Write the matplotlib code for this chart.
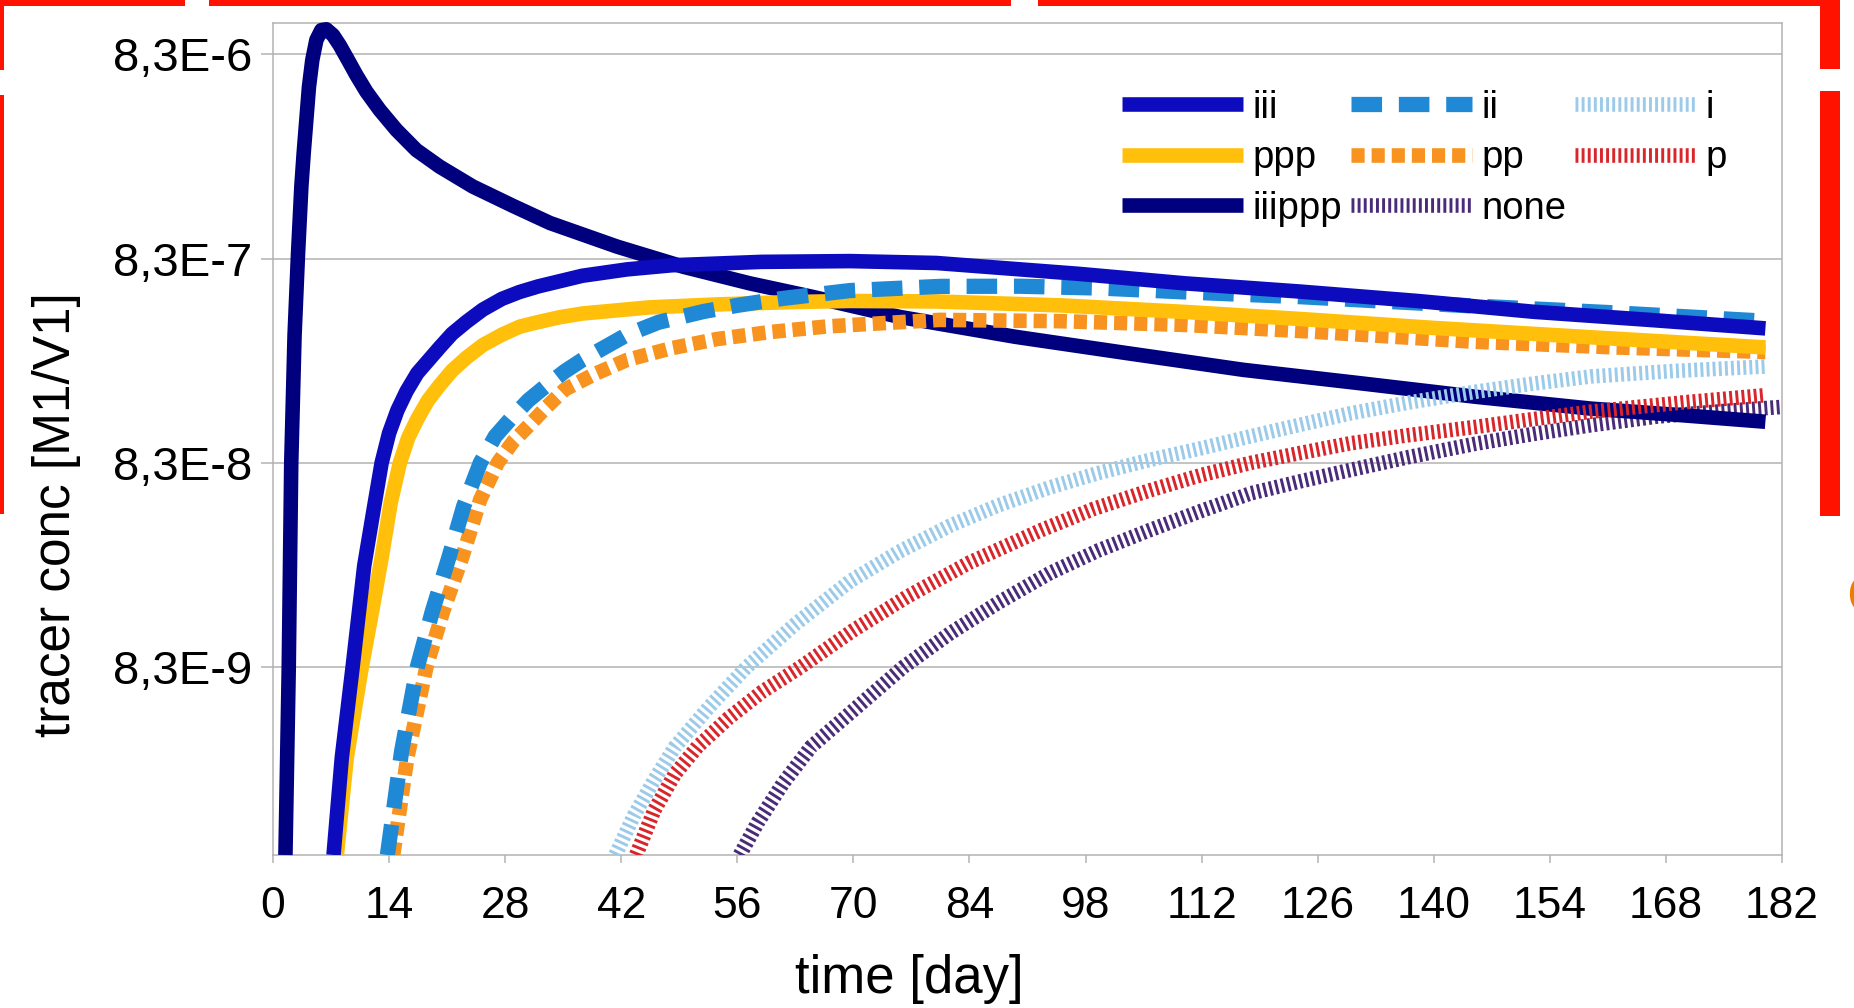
import matplotlib
matplotlib.use('Agg')
import matplotlib.pyplot as plt
from matplotlib.patches import Rectangle
from matplotlib.ticker import NullLocator

plt.rcParams['font.family'] = ['Liberation Sans', 'DejaVu Sans']

# values: time [day] and tracer conc [M1/V1]
iii_days = [7.3, 8.3, 9.6, 11.0, 12.1, 13.1, 14.0, 15.0, 16.1, 17.4, 20.1, 21.6, 23.3,
            25.3, 27.6, 29.7, 32.0, 37.3, 42.7, 48.1, 58.9, 69.6, 80, 97, 110, 124,
            138, 152, 166, 180]
iii_vals = [1.0e-9, 3.0e-9, 8.3e-9, 2.6e-8, 4.8e-8, 8.3e-8, 1.16e-7, 1.5e-7, 1.86e-7,
            2.28e-7, 3.05e-7, 3.56e-7, 4.06e-7, 4.67e-7, 5.27e-7, 5.69e-7, 6.07e-7,
            6.84e-7, 7.35e-7, 7.7e-7, 8.0e-7, 8.07e-7, 7.9e-7, 7.0e-7, 6.28e-7,
            5.72e-7, 5.15e-7, 4.56e-7, 4.16e-7, 3.78e-7]

ii_days = [13.8, 15.5, 17.4, 19.2, 21.2, 23.0, 25.0, 26.8, 28.7, 30.8, 33.0, 35.2, 37.3,
           42.7, 46.5, 51.9, 56, 61.5, 69.6, 80.5, 90, 100, 110, 124, 145, 162, 180]
ii_vals = [1.0e-9, 3.2e-9, 8.3e-9, 1.55e-8, 2.85e-8, 5.1e-8, 8.3e-8, 1.12e-7, 1.37e-7,
           1.68e-7, 1.99e-7, 2.33e-7, 2.65e-7, 3.52e-7, 4.05e-7, 4.57e-7, 4.9e-7,
           5.3e-7, 5.79e-7, 6.07e-7, 6.08e-7, 5.95e-7, 5.7e-7, 5.4e-7, 4.86e-7,
           4.5e-7, 4.1e-7]

i_days = [41.3, 43.5, 46, 48.5, 52.5, 57.1, 63, 69.6, 75.5, 81.7, 87.5, 93.7, 99.5,
          105.8, 112, 117.9, 124, 129.9, 137, 145, 152, 159, 169, 180]
i_vals = [1.0e-9, 1.55e-9, 2.34e-9, 3.39e-9, 5.25e-9, 8.3e-9, 1.35e-8, 2.19e-8, 3.05e-8,
          4.1e-8, 5.15e-8, 6.3e-8, 7.4e-8, 8.6e-8, 9.8e-8, 1.12e-7, 1.28e-7, 1.45e-7,
          1.64e-7, 1.85e-7, 2.03e-7, 2.2e-7, 2.34e-7, 2.46e-7]

ppp_days = [7.7, 8.9, 10.7, 12.0, 13.1, 14.2, 15.3, 16.3, 17.4, 18.7, 20.1, 21.6, 23.3,
            25.3, 27.6, 29.8, 32.0, 34.5, 37.3, 45.4, 53.5, 62, 69.6, 80, 95, 110, 124,
            140, 160, 180]
ppp_vals = [1.0e-9, 3.0e-9, 8.3e-9, 1.6e-8, 2.85e-8, 5.3e-8, 8.3e-8, 1.1e-7, 1.36e-7,
            1.68e-7, 1.99e-7, 2.35e-7, 2.71e-7, 3.13e-7, 3.52e-7, 3.86e-7, 4.06e-7,
            4.28e-7, 4.47e-7, 4.79e-7, 4.95e-7, 5.08e-7, 5.15e-7, 5.12e-7, 4.9e-7,
            4.55e-7, 4.2e-7, 3.8e-7, 3.4e-7, 3.05e-7]

pp_days = [14.5, 16.2, 18.5, 20.5, 22.8, 25.0, 27.1, 29.0, 30.9, 33.0, 35.2, 38.8, 42.7,
           48, 53.5, 60, 67, 80.4, 95, 110, 125, 145, 162, 180]
pp_vals = [1.0e-9, 3.0e-9, 8.3e-9, 1.55e-8, 2.85e-8, 5.5e-8, 8.3e-8, 1.06e-7, 1.27e-7,
           1.56e-7, 1.9e-7, 2.26e-7, 2.65e-7, 3.02e-7, 3.35e-7, 3.63e-7, 3.87e-7,
           4.16e-7, 4.1e-7, 3.93e-7, 3.65e-7, 3.25e-7, 3.05e-7, 2.9e-7]

p_days = [43.8, 46, 48.5, 51.2, 55, 59, 63.6, 70, 76.5, 84, 92.7, 99, 105.8, 112, 117.9,
          124, 129.9, 137, 145, 152, 159, 170, 180]
p_vals = [1.0e-9, 1.66e-9, 2.5e-9, 3.39e-9, 4.7e-9, 6.3e-9, 8.3e-9, 1.26e-8, 1.84e-8,
          2.7e-8, 3.9e-8, 4.95e-8, 6.1e-8, 7.25e-8, 8.3e-8, 9.3e-8, 1.035e-7, 1.135e-7,
          1.245e-7, 1.36e-7, 1.48e-7, 1.64e-7, 1.78e-7]

iiippp_days = [1.5, 1.9, 2.2, 2.6, 3.02, 3.22, 3.42, 3.7, 4.02, 4.34, 4.74, 5.23, 5.83,
               6.43, 7.24, 8.04, 9.05, 10.05, 11.26, 12.87, 14.88, 17.29, 20.1, 24.1,
               29, 33.4, 41.5, 49.5, 57.5, 65, 75.6, 89.5, 103, 117, 131, 145, 159,
               170, 180]
iiippp_vals = [1.0e-9, 8.3e-9, 8.3e-8, 3.5e-7, 8.8e-7, 1.28e-6, 1.87e-6, 2.72e-6, 3.96e-6,
               5.76e-6, 7.78e-6, 9.75e-6, 1.09e-5, 1.10e-5, 1.03e-5, 9.2e-6, 7.78e-6,
               6.57e-6, 5.45e-6, 4.43e-6, 3.54e-6, 2.82e-6, 2.34e-6, 1.87e-6, 1.5e-6,
               1.24e-6, 9.5e-7, 7.57e-7, 6.28e-7, 5.4e-7, 4.3e-7, 3.44e-7, 2.86e-7,
               2.37e-7, 2.04e-7, 1.75e-7, 1.53e-7, 1.42e-7, 1.32e-7]

none_days = [56.3, 58.5, 61.5, 64.9, 69.6, 76, 81.7, 87.5, 93.7, 99.5, 105.8, 112, 117.9,
             124, 129.9, 137, 145, 152, 159, 167, 175, 182]
none_vals = [1.0e-9, 1.45e-9, 2.24e-9, 3.39e-9, 4.95e-9, 8.3e-9, 1.22e-8, 1.72e-8, 2.4e-8,
             3.09e-8, 3.9e-8, 4.84e-8, 5.89e-8, 6.76e-8, 7.66e-8, 8.87e-8, 1.03e-7,
             1.15e-7, 1.27e-7, 1.4e-7, 1.49e-7, 1.56e-7]

x_ticks = list(range(0, 183, 14))
y_ticks = [8.3e-9, 8.3e-8, 8.3e-7, 8.3e-6]
y_tick_labels = ['8,3E-9', '8,3E-8', '8,3E-7', '8,3E-6']

# series in legend order (row by row, three per row)
series = [
    ('iii', iii_days, iii_vals),
    ('ii', ii_days, ii_vals),
    ('i', i_days, i_vals),
    ('ppp', ppp_days, ppp_vals),
    ('pp', pp_days, pp_vals),
    ('p', p_days, p_vals),
    ('iiippp', iiippp_days, iiippp_vals),
    ('none', none_days, none_vals),
]

fine = (0.2, 0.22)
styles = {
    'iii': dict(color='#0c0cbe', lw=10.5),
    'ii': dict(color='#2089d5', lw=11, dashes=(2.0, 1.1)),
    'i': dict(color='#9ccbea', lw=10.5, dashes=fine),
    'ppp': dict(color='#ffbf0a', lw=10.5),
    'pp': dict(color='#f7931e', lw=10.5, dashes=(0.9, 0.48)),
    'p': dict(color='#d8262b', lw=10.5, dashes=fine),
    'iiippp': dict(color='#00007e', lw=10.5),
    'none': dict(color='#4a2b78', lw=10.5, dashes=fine),
}

W, H = 1854, 1008
fig = plt.figure(figsize=(W / 100, H / 100), dpi=100)
ax = fig.add_axes([273 / W, 1 - 855 / H, 1509 / W, 832 / H])

lines = {}
n = len(series)
for k, (name, days, vals) in enumerate(series):
    ln, = ax.plot(days, vals, label=name, solid_capstyle='butt', dash_capstyle='butt',
                  solid_joinstyle='round', zorder=10 + n - k, **styles[name])
    lines[name] = ln
# the peak pokes a little above the frame in the original
lines['iiippp'].set_clip_on(False)

ax.set_yscale('log')
ax.set_xlim(0, 182)
ax.set_ylim(1.0e-9, 1.181e-5)
ax.set_xticks(x_ticks)
ax.set_yticks(y_ticks, labels=y_tick_labels)
ax.yaxis.set_minor_locator(NullLocator())

grey = '#b3b3b3'
ax.yaxis.grid(True, color=grey, lw=1.1)
ax.set_axisbelow(True)
for s in ax.spines.values():
    s.set_color(grey)
    s.set_linewidth(1.1)
ax.tick_params(axis='x', length=6, width=1.1, color=grey, labelsize=32, pad=16)
ax.tick_params(axis='y', length=9, width=1.1, color=grey, labelsize=34, pad=6)

ax.set_xlabel('time [day]', fontsize=38, va='center')
ax.xaxis.set_label_coords(0.422, -0.149)
ax.set_ylabel('tracer conc [M1/V1]', fontsize=37, va='center')
ax.yaxis.set_label_coords(-0.1438, 0.4087)

order = ['iii', 'ppp', 'iiippp', 'ii', 'pp', 'none', 'i', 'p']
ax.legend(handles=[lines[k] for k in order], ncol=3, loc='upper left',
          bbox_to_anchor=(0.5626, 0.92), frameon=False, fontsize=27.5,
          handlelength=3.17, handletextpad=0.24, columnspacing=0.24,
          labelspacing=0.38, borderpad=0, borderaxespad=0)

# red slide frame around the screenshot
red = '#ff1200'
for x0, y0, x1, y1 in [(0, 0, 185, 6), (209, 0, 1011, 6), (1038, 0, 1840, 6),
                       (0, 0, 4, 70), (0, 95, 4, 514),
                       (1820, 0, 1840, 69), (1820, 91, 1840, 516)]:
    fig.add_artist(Rectangle((x0 / W, 1 - y1 / H), (x1 - x0) / W, (y1 - y0) / H,
                             transform=fig.transFigure, color=red, lw=0))
fig.text(1846 / W, 1 - 600 / H, 'C', color='#f07d00', fontsize=40, ha='left', va='center')

fig.savefig('out.png', dpi=100)
